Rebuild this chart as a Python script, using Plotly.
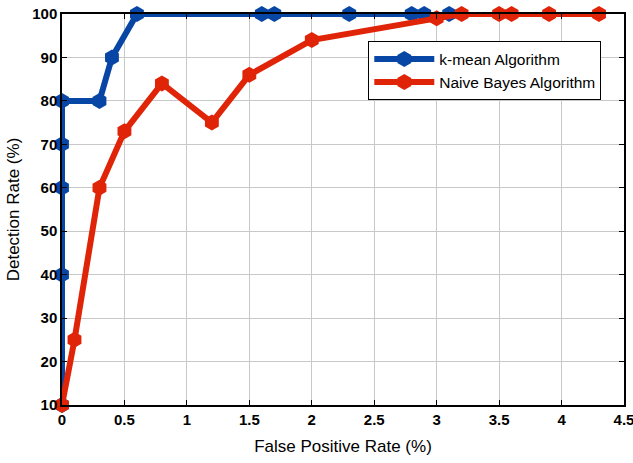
import plotly.graph_objects as go

kmean_fpr = [0, 0, 0, 0, 0, 0.3, 0.4, 0.6, 1.6, 1.7, 2.3, 2.8, 2.9, 3.1]
kmean_dr = [10, 40, 60, 70, 80, 80, 90, 100, 100, 100, 100, 100, 100, 100]
nb_fpr = [0, 0.1, 0.3, 0.5, 0.8, 1.2, 1.5, 2.0, 3.0, 3.2, 3.5, 3.6, 3.9, 4.3]
nb_dr = [10, 25, 60, 73, 84, 75, 86, 94, 99, 100, 100, 100, 100, 100]

x_ticks = [0, 0.5, 1, 1.5, 2, 2.5, 3, 3.5, 4, 4.5]
x_labels = ["0", "0.5", "1", "1.5", "2", "2.5", "3", "3.5", "4", "4.5"]
y_ticks = [10, 20, 30, 40, 50, 60, 70, 80, 90, 100]

BLUE = "#0846a6"
RED = "#e02408"

fig = go.Figure()
fig.add_trace(go.Scatter(x=kmean_fpr, y=kmean_dr, mode="lines+markers",
                         name="k-mean Algorithm",
                         line=dict(color=BLUE, width=6),
                         marker=dict(symbol="hexagon", size=16, color=BLUE),
                         cliponaxis=False))
fig.add_trace(go.Scatter(x=nb_fpr, y=nb_dr, mode="lines+markers",
                         name="Naive Bayes Algorithm",
                         line=dict(color=RED, width=6),
                         marker=dict(symbol="hexagon", size=16, color=RED),
                         cliponaxis=False))

fig.update_layout(
    width=633, height=463,
    margin=dict(l=62, r=9, t=14, b=58, autoexpand=False),
    plot_bgcolor="white", paper_bgcolor="white",
    font=dict(family="Liberation Sans, Arial, sans-serif", color="black"),
    showlegend=True,
    legend=dict(x=0.545, y=0.93, xanchor="left", yanchor="top",
                bgcolor="white", bordercolor="black", borderwidth=1,
                font=dict(size=15.5), tracegroupgap=0, itemwidth=60),
)
fig.update_xaxes(range=[0, 4.5], tickvals=x_ticks, ticktext=x_labels,
                 automargin=False, ticklabeloverflow="allow",
                 showgrid=True, gridcolor="#c8c8c8", gridwidth=1,
                 showline=True, linecolor="black", linewidth=1.5, mirror="ticks",
                 ticks="inside", ticklen=5, tickcolor="black",
                 tickfont=dict(size=15, family="Liberation Sans, Arial", weight="bold"),
                 title=dict(text="False Positive Rate (%)", font=dict(size=17), standoff=13),
                 zeroline=False)
fig.update_yaxes(range=[10, 100], tickvals=y_ticks,
                 automargin=False, ticklabeloverflow="allow",
                 showgrid=True, gridcolor="#c8c8c8", gridwidth=1,
                 showline=True, linecolor="black", linewidth=1.5, mirror="ticks",
                 ticks="inside", ticklen=5, tickcolor="black",
                 tickfont=dict(size=15, family="Liberation Sans, Arial", weight="bold"),
                 title=dict(text="Detection Rate (%)", font=dict(size=17), standoff=8),
                 zeroline=False)

fig.write_html("out.html", config={"displayModeBar": False},
               post_script="document.body.style.margin='0';document.body.style.overflow='hidden';")
